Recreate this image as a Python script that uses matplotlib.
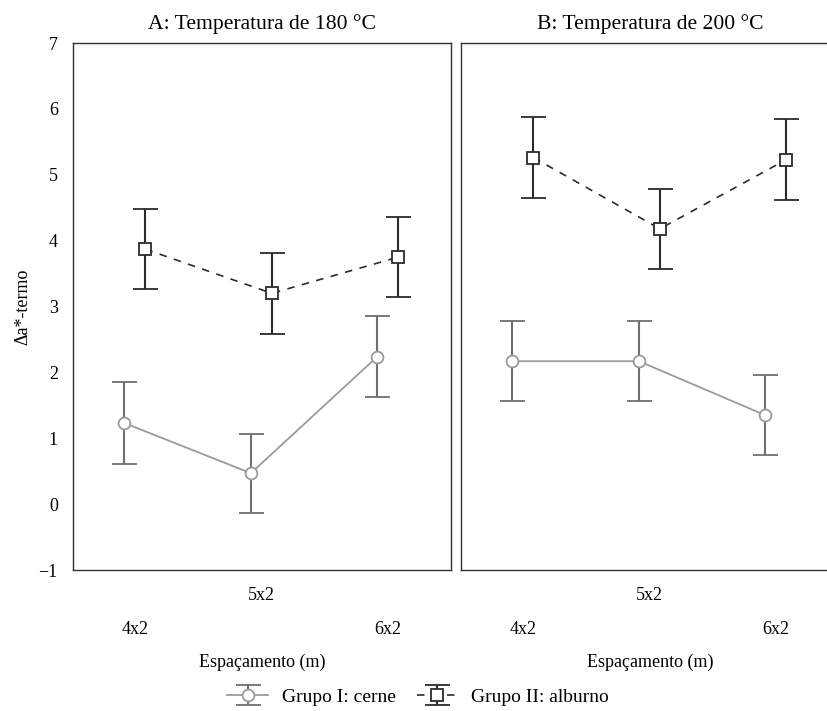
import matplotlib
matplotlib.use('Agg')
import matplotlib.pyplot as plt
import numpy as np

# =========================
# data
# =========================

spacing = ['4x2', '5x2', '6x2']
titles = ['A: Temperatura de 180 °C', 'B: Temperatura de 200 °C']

cerne_180 = [1.23, 0.47, 2.24]
cerne_180_err = [0.62, 0.60, 0.61]
alburno_180 = [3.87, 3.20, 3.75]
alburno_180_err = [0.61, 0.61, 0.61]

cerne_200 = [2.17, 2.17, 1.35]
cerne_200_err = [0.61, 0.61, 0.61]
alburno_200 = [5.26, 4.18, 5.23]
alburno_200_err = [0.61, 0.61, 0.61]

GREY_LINE = '#9a9a9a'
GREY_BAR = '#6f6f6f'
DARK = '#2b2b2b'

plt.rcParams['font.family'] = ['Liberation Serif', 'DejaVu Serif']
plt.rcParams['font.size'] = 13


def draw_panel(ax, cerne, cerne_err, alburno, alburno_err, title, show_y):
    x = np.arange(len(spacing))
    off = 0.083

    h1 = ax.errorbar(x - off, cerne, yerr=cerne_err, color=GREY_LINE, ecolor=GREY_BAR,
                     elinewidth=1.5, capsize=9, capthick=1.5, lw=1.3,
                     marker='o', ms=8.5, mfc='white', mec=GREY_LINE, mew=1.3, zorder=3)
    h2 = ax.errorbar(x + off, alburno, yerr=alburno_err, color=DARK, ecolor=DARK,
                     elinewidth=1.5, capsize=9, capthick=1.5, lw=1.2, ls=(0, (4.5, 4.5)),
                     marker='s', ms=8.5, mfc='white', mec=DARK, mew=1.3, zorder=3)

    ax.set_xlim(-0.49, 2.5)
    ax.set_ylim(-1, 7)
    ax.set_yticks(range(-1, 8))
    ax.set_yticklabels(['\u22121'] + [str(v) for v in range(0, 8)])
    if not show_y:
        ax.tick_params(axis='y', labelleft=False)

    # staggered category labels
    ax.set_xticks([0, 2])
    ax.set_xticklabels([spacing[0], spacing[2]])
    ax.set_xticks([1], minor=True)
    ax.set_xticklabels([spacing[1]], minor=True)
    ax.tick_params(axis='x', which='major', length=0, pad=37)
    ax.tick_params(axis='x', which='minor', length=0, pad=12)
    ax.tick_params(axis='y', length=0, pad=11)

    ax.set_xlabel('Espaçamento (m)', labelpad=11)
    ax.set_title(title, pad=10)

    for s in ax.spines.values():
        s.set_color('#333333')
        s.set_linewidth(1.0)
    return h1, h2


fig = plt.figure(figsize=(8.28, 7.11), dpi=100)
ax1 = fig.add_axes([0.0882, 0.1983, 0.4565, 0.7412])
ax2 = fig.add_axes([0.5568, 0.1983, 0.4565, 0.7412])

h1, h2 = draw_panel(ax1, cerne_180, cerne_180_err, alburno_180, alburno_180_err, titles[0], True)
draw_panel(ax2, cerne_200, cerne_200_err, alburno_200, alburno_200_err, titles[1], False)

ax1.set_ylabel('\u0394a*-termo', labelpad=5)

fig.legend([h1, h2], ['Grupo I: cerne', 'Grupo II: alburno'], loc='lower center',
           bbox_to_anchor=(0.505, -0.017), ncol=2, frameon=False, handlelength=2.1,
           columnspacing=1.1, handletextpad=0.7, prop={'size': 14})

plt.savefig('out.png', dpi=100)
plt.close('all')
